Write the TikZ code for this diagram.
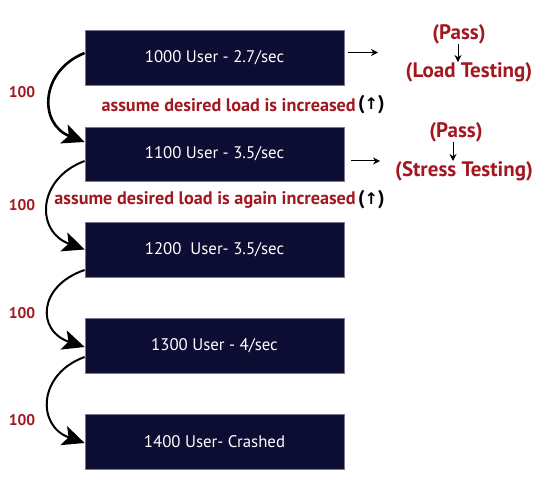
\documentclass[tikz,border=0pt]{standalone}
\usepackage{fontspec}
\setmainfont{PT Sans}
\newfontfamily\symfont{DejaVu Sans}
\usetikzlibrary{arrows.meta}
\definecolor{boxnavy}{RGB}{13,13,52}
\definecolor{boxedge}{RGB}{120,120,150}
\definecolor{lblred}{RGB}{163,24,32}
\tikzset{
  ubox/.style={draw=boxedge, line width=0.8pt, fill=boxnavy, minimum width=259pt, minimum height=55pt, inner sep=0pt, text=white, font=\fontsize{16.8}{19}\selectfont},
  numlbl/.style={text=lblred, font=\bfseries\fontsize{15.5}{18}\selectfont, inner sep=0pt},
  redlbl/.style={text=lblred, font=\bfseries\fontsize{18.2}{21}\selectfont, inner sep=0pt},
  biglbl/.style={text=lblred, font=\bfseries\fontsize{21}{24}\selectfont, inner sep=0pt},
  uplbl/.style={anchor=west, inner sep=0pt, font=\bfseries\fontsize{20}{22}\selectfont},
  hop/.style={-{Stealth[length=22pt, width=20pt, inset=5pt]}, line width=2pt},
  small/.style={-{Stealth[length=7pt, width=7pt]}, line width=1pt},
}
\begin{document}
\begin{tikzpicture}[x=1pt, y=-1pt]
\useasboundingbox (0,0) rectangle (544,500);
\node[ubox] (b1) at (214.5,57.5) {1000 User - 2.7/sec};
\node[ubox, minimum height=54pt] (b2) at (214.5,154) {1100 User - 3.5/sec};
\node[ubox] (b3) at (214.5,249.5) {1200\ \ User- 3.5/sec};
\node[ubox] (b4) at (214.5,345.5) {1300 User - 4/sec};
\node[ubox] (b5) at (214.5,441.5) {1400 User- Crashed};

\node[numlbl] (n1) at (22,92) {100};
\node[numlbl] (n2) at (22,205) {100};
\node[numlbl] (n3) at (22,313) {100};
\node[numlbl] (n4) at (22,420) {100};

\node[redlbl, anchor=east] (a1) at (356,105) {assume desired load is increased};
\node[uplbl] (u1) at (358,105) {({\symfont\fontsize{16}{18}\selectfont ↑})};
\node[redlbl, anchor=east] (a2) at (356,200) {assume desired load is again increased};
\node[uplbl] (u2) at (358,200) {({\symfont\fontsize{16}{18}\selectfont ↑})};

\node[biglbl] (p1) at (459,34) {(Pass)};
\node[biglbl] (l1) at (469,72) {(Load Testing)};
\node[biglbl] (p2) at (456,132) {(Pass)};
\node[biglbl] (s2) at (464,171) {(Stress Testing)};

\coordinate (r1s) at (348,52.5);
\coordinate (r1e) at (378,52.5);
\coordinate (r2s) at (351,161);
\coordinate (r2e) at (380,161);
\draw[small] (r1s) -- (r1e);
\draw[small] (r2s) -- (r2e);
\draw[small] (p1.south -| 458,0) -- (l1.north -| 458,0);
\draw[small] (p2.south -| 453,0) -- (s2.north -| 453,0);

\draw[hop, line width=2.6pt] ([yshift=4.5pt]b1.west) .. controls +(-45,18) and +(-46,-18) .. ([yshift=12pt]b2.west);
\draw[hop] ([yshift=-7pt]b2.west) .. controls +(-48,18) and +(-49,-18) .. (b3.west);
\draw[hop] ([yshift=-20.5pt]b3.west) .. controls +(-47,16) and +(-48,-16) .. ([yshift=-1.5pt]b4.west);
\draw[hop] ([yshift=-11.5pt]b4.west) .. controls +(-47,17) and +(-48,-17) .. ([yshift=-1.5pt]b5.west);
\end{tikzpicture}
\end{document}
